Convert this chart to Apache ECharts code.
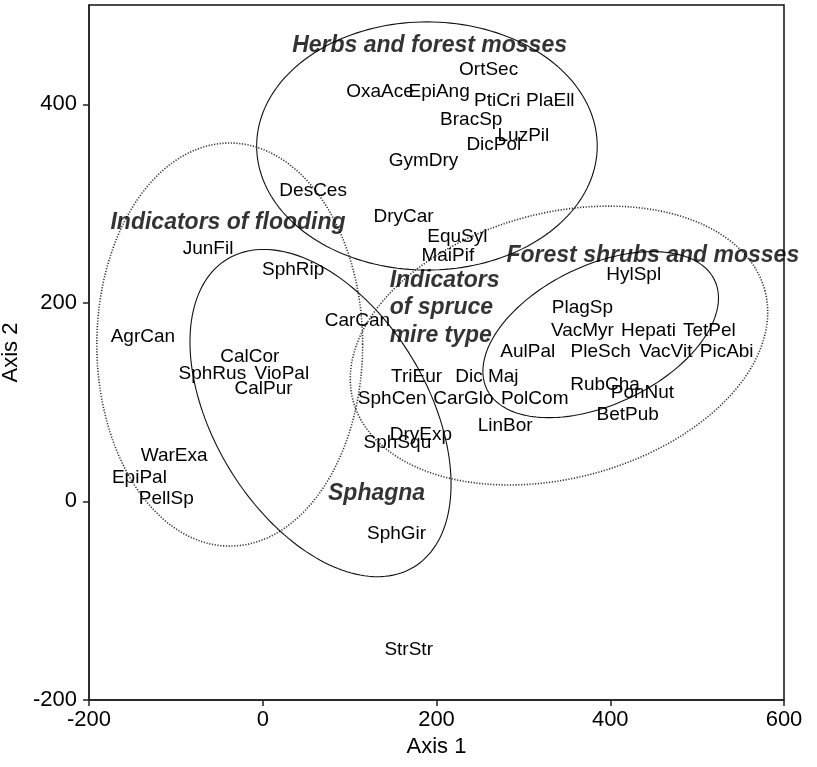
<!DOCTYPE html>
<html>
<head>
<meta charset="utf-8">
<script src="https://cdn.jsdelivr.net/npm/echarts@6/dist/echarts.min.js"></script>
<style>
html,body{margin:0;padding:0;background:#fff;}
#chart{width:817px;height:767px;}
</style>
</head>
<body>
<div id="chart"></div>
<script>
// ---- data ----
const xTicks = [-200, 0, 200, 400, 600];
const yTicks = [-200, 0, 200, 400];

const speciesNames = ['OrtSec','OxaAce','EpiAng','PtiCri','PlaEll','BracSp','LuzPil','DicPol','GymDry','DesCes',
  'DryCar','JunFil','SphRip','EquSyl','MaiPif','HylSpl','CarCan','PlagSp','AgrCan','VacMyr',
  'Hepati','TetPel','CalCor','AulPal','PleSch','VacVit','PicAbi','SphRus','VioPal','TriEur',
  'Dic Maj','CalPur','RubCha','PonNut','SphCen','CarGlo','PolCom','BetPub','LinBor','DryExp',
  'SphSqu','WarExa','EpiPal','PellSp','SphGir','StrStr'];
const speciesX = [260,135,203,270,331,240,300,266,185,58,
  162,-63,35,224,213,427,109,368,-138,368,
  444,514,-15,305,389,464,534,-58,22,177,
  258,1,394,437,149,231,313,420,279,182,
  155,-102,-142,-111,154,168];
const speciesY = [435,413,413,404,404,384,368,359,343,313,
  287,254,233,267,247,228,182,195,166,172,
  172,172,146,151,151,151,151,129,129,126,
  126,113,117,109,103,103,103,87,76,67,
  59,46,24,3,-33,-149];

const groupNames = ['Herbs and forest mosses','Indicators of flooding','Forest shrubs and mosses','Sphagna'];
const groupX = [192, -40, 449, 131];
const groupY = [459, 281, 248, 8];
const spruceLabel = 'Indicators\nof spruce\nmire type';
const spruceX = [146];
const spruceY = [195];

// ellipses: centre and two conjugate semi-axis vectors, in data units
const ellipseCX = [189, -38, 66.5, 341, 389];
const ellipseCY = [358, 158, 89, 157, 168];
const ellipseUX = [196, 153, 107.5, 237, 131];
const ellipseUY = [0, 0, -155, 55.5, 55];
const ellipseVX = [0, 0, -105, 39.5, 35];
const ellipseVY = [125, 203, -56, -129, -63];
const ellipseDotted = [false, true, false, true, false];

const FONT = '"Liberation Sans", Arial, Helvetica, sans-serif';

const chart = echarts.init(document.getElementById('chart'), null, {renderer: 'canvas'});

const speciesData = speciesNames.map((n, i) => [speciesX[i], speciesY[i], n]);
const groupData = groupNames.map((n, i) => [groupX[i], groupY[i], n]);
const ellipseData = ellipseCX.map((c, i) => [c, ellipseCY[i], i]);

const option = {
  backgroundColor: '#fff',
  animation: false,
  grid: {left: 89, right: 33, top: 5, bottom: 67, show: true, borderColor: '#111', borderWidth: 1.5,
         containLabel: false, outerBoundsMode: 'none'},
  xAxis: {
    type: 'value', min: -200, max: 600, interval: 200,
    axisLine: {show: true, onZero: false, lineStyle: {color: '#222', width: 1.5}},
    axisTick: {show: true, length: 6, lineStyle: {color: '#222', width: 1.5}, customValues: xTicks},
    axisLabel: {fontSize: 22, color: '#000', margin: 9, fontFamily: FONT, customValues: xTicks},
    splitLine: {show: false},
    name: 'Axis 1', nameLocation: 'middle', nameGap: 36,
    nameTextStyle: {fontSize: 22, color: '#000', fontFamily: FONT}
  },
  yAxis: {
    type: 'value', min: -200, max: 500, interval: 200,
    axisLine: {show: true, onZero: false, lineStyle: {color: '#222', width: 1.5}},
    axisTick: {show: true, length: 6, lineStyle: {color: '#222', width: 1.5}, customValues: yTicks},
    axisLabel: {fontSize: 22, color: '#000', margin: 12, fontFamily: FONT, customValues: yTicks},
    splitLine: {show: false},
    name: 'Axis 2', nameLocation: 'middle', nameGap: 55,
    nameTextStyle: {fontSize: 22, color: '#000', fontFamily: FONT}
  },
  series: [
    {
      type: 'custom',
      silent: true,
      data: ellipseData,
      encode: {x: 0, y: 1},
      z: 1,
      renderItem: function (params, api) {
        const i = params.dataIndex;
        const pts = [];
        const N = 180;
        for (let k = 0; k <= N; k++) {
          const t = 2 * Math.PI * k / N;
          const c = Math.cos(t), s = Math.sin(t);
          pts.push(api.coord([
            ellipseCX[i] + ellipseUX[i] * c + ellipseVX[i] * s,
            ellipseCY[i] + ellipseUY[i] * c + ellipseVY[i] * s
          ]));
        }
        return {
          type: 'polyline',
          shape: {points: pts},
          style: ellipseDotted[i]
            ? {stroke: '#333', lineWidth: 1.6, lineDash: [1.2, 1.6], fill: null}
            : {stroke: '#111', lineWidth: 1.1, fill: null}
        };
      }
    },
    {
      type: 'scatter',
      data: speciesData,
      symbolSize: 0.1,
      itemStyle: {color: 'transparent'},
      z: 3,
      label: {
        show: true, position: 'inside', color: '#000', fontSize: 19, fontFamily: FONT,
        textBorderWidth: 0, textBorderColor: 'transparent', opacity: 1,
        formatter: p => p.data[2]
      }
    },
    {
      type: 'scatter',
      data: groupData,
      symbolSize: 0.1,
      itemStyle: {color: 'transparent'},
      z: 4,
      label: {
        show: true, position: 'inside', color: '#000', fontSize: 23, fontWeight: 'bold',
        fontStyle: 'italic', fontFamily: FONT, textBorderWidth: 0, textBorderColor: 'transparent',
        formatter: p => p.data[2]
      }
    },
    {
      type: 'scatter',
      data: [[spruceX[0], spruceY[0], spruceLabel]],
      symbolSize: 0.1,
      itemStyle: {color: 'transparent'},
      z: 4,
      label: {
        show: true, position: 'right', distance: 0, align: 'left', color: '#000', fontSize: 23,
        fontWeight: 'bold', fontStyle: 'italic', fontFamily: FONT, lineHeight: 27.5,
        textBorderWidth: 0, textBorderColor: 'transparent',
        formatter: p => p.data[2]
      }
    }
  ]
};
chart.setOption(option);
</script>
</body>
</html>
